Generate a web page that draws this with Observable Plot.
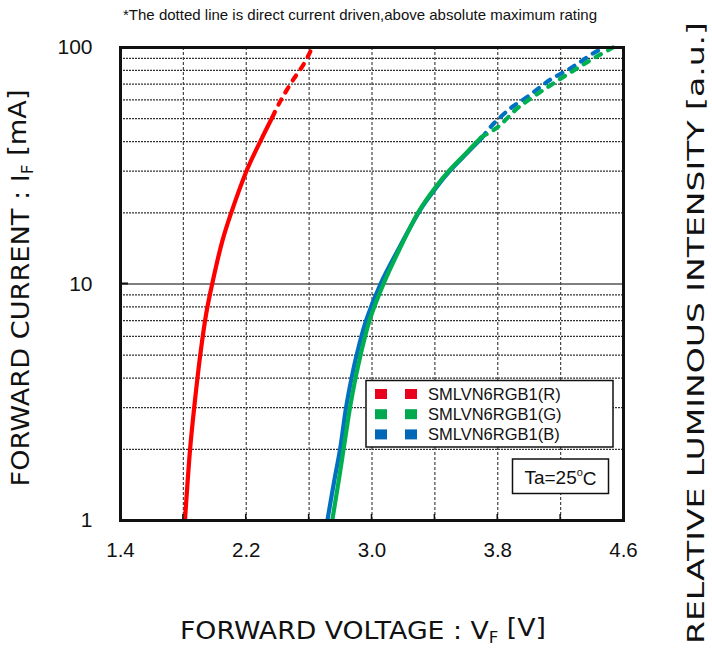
<!DOCTYPE html>
<html><head><meta charset="utf-8">
<script src="https://cdn.jsdelivr.net/npm/d3@7"></script>
<script src="https://cdn.jsdelivr.net/npm/@observablehq/plot@0.6"></script>
<style>body{margin:0;background:#fff}</style>
</head><body><div id="chart"></div>
<script>
// Red (R): forward voltage [V] vs forward current [mA]
const redSolidV = [1.810, 1.843, 1.869, 1.907, 1.945, 1.988, 2.049, 2.102, 2.203, 2.292, 2.366];
const redSolidI = [1, 2.01, 3.01, 4.99, 7.48, 10.35, 15.3, 19.8, 30.2, 40.4, 50.7];
const redDashV = [2.366, 2.419, 2.503, 2.567, 2.620];
const redDashI = [50.7, 59.7, 73.8, 85.3, 100];
// Green (G)
const greenSolidV = [2.747, 2.790, 2.819, 2.860, 2.895, 2.927, 2.984, 3.073, 3.181, 3.302, 3.397, 3.492, 3.594, 3.696];
const greenSolidI = [1, 1.5, 2, 3, 4, 5, 7, 10, 14.3, 20.5, 25.3, 30.2, 35.5, 41.8];
const greenDashV = [3.696, 3.795, 3.922, 4.006, 4.102, 4.176, 4.260, 4.345, 4.430, 4.533];
const greenDashI = [41.8, 45.8, 55.1, 60.7, 66.9, 72.1, 78.2, 84.8, 91.6, 100];
// Blue (B)
const blueSolidV = [2.716, 2.762, 2.797, 2.835, 2.870, 2.902, 2.962, 3.054, 3.175, 3.305, 3.403, 3.498, 3.600, 3.700];
const blueSolidI = [1, 1.5, 2, 3, 4, 5, 7, 10, 14.3, 20.5, 25.3, 30.2, 35.5, 41.5];
const blueDashV = [3.700, 3.763, 3.890, 3.985, 4.070, 4.144, 4.239, 4.324, 4.408, 4.450];
const blueDashI = [41.5, 46.8, 55.9, 61.6, 68, 73.8, 79.9, 86.7, 94.6, 98];

const xTicks = [1.4, 2.2, 3.0, 3.8, 4.6];
const xTickLabels = ["1.4", "2.2", "3.0", "3.8", "4.6"];
const xGrid = [1.8, 2.2, 2.6, 3.0, 3.4, 3.8, 4.2];
const yTicks = [1, 10, 100];
const yTickLabels = ["1", "10", "100"];
const yMinor = [2, 3, 4, 5, 6, 7, 8, 9, 20, 30, 40, 50, 60, 70, 80, 90];
const seriesNames = ["SMLVN6RGB1(R)", "SMLVN6RGB1(G)", "SMLVN6RGB1(B)"];
const seriesColors = ["#ff0000", "#00b050", "#0070c0"];
const legendColors = ["#e8001c", "#00a84f", "#0068b7"];

const pts = (V, I) => V.map((v, i) => ({v, i: I[i]}));

const lineOpts = (color, dashed) => ({x: "v", y: "i", stroke: color, strokeWidth: 4.2,
  strokeLinecap: dashed ? "round" : "butt", strokeDasharray: dashed ? "6,8" : null, curve: "catmull-rom"});

const sans = "'Liberation Sans', Arial, sans-serif";
const W = 712, H = 649;
const plot = Plot.plot({
  width: W, height: H,
  marginLeft: 120, marginRight: 89, marginTop: 47, marginBottom: 129,
  style: {fontFamily: sans, background: "#fff", color: "#000"},
  x: {domain: [1.4, 4.6], axis: null},
  y: {type: "log", domain: [1, 100], axis: null},
  marks: [
    Plot.ruleY(yMinor, {stroke: "#333", strokeWidth: 1.2, strokeDasharray: "2,1"}),
    Plot.ruleY([10], {stroke: "#555", strokeWidth: 1.5}),
    Plot.ruleX(xGrid, {stroke: "#444", strokeWidth: 1.2, strokeDasharray: "3,2"}),
    Plot.text(xTicks, {x: d => d, text: (d, i) => xTickLabels[i], frameAnchor: "bottom", dy: 30,
      fontSize: 20.5, fill: "#111", lineAnchor: "middle"}),
    Plot.text(yTicks, {y: d => d, text: (d, i) => yTickLabels[i], frameAnchor: "left", dx: -28,
      textAnchor: "end", fontSize: 21, fill: "#111"}),
    Plot.line(pts(redSolidV, redSolidI), lineOpts(seriesColors[0], false)),
    Plot.line(pts(redDashV, redDashI), lineOpts(seriesColors[0], true)),
    Plot.line(pts(blueSolidV, blueSolidI), lineOpts(seriesColors[2], false)),
    Plot.line(pts(blueDashV, blueDashI), lineOpts(seriesColors[2], true)),
    Plot.line(pts(greenSolidV, greenSolidI), lineOpts(seriesColors[1], false)),
    Plot.line(pts(greenDashV, greenDashI), lineOpts(seriesColors[1], true)),
    Plot.frame({stroke: "#111", strokeWidth: 3})
  ]
});
document.getElementById("chart").appendChild(plot);

const svg = d3.select(plot);
const xs = plot.scale("x"), ys = plot.scale("y");
const pLeft = xs.apply(1.4), pBottom = ys.apply(1);

// short inward ticks
const tg = svg.append("g");
xGrid.forEach(v => tg.append("line").attr("x1", xs.apply(v)).attr("x2", xs.apply(v))
  .attr("y1", pBottom).attr("y2", pBottom - 6).attr("stroke", "#111").attr("stroke-width", 1.5));
tg.append("line").attr("x1", pLeft).attr("x2", pLeft + 8).attr("y1", ys.apply(10)).attr("y2", ys.apply(10))
  .attr("stroke", "#111").attr("stroke-width", 2);

// Legend
const lg = svg.append("g");
lg.append("rect").attr("x", 366).attr("y", 380.5).attr("width", 247).attr("height", 66.5)
  .attr("fill", "#fff").attr("stroke", "#111").attr("stroke-width", 1.5);
seriesNames.forEach((n, k) => {
  const cy = 394 + k * 20.2;
  [375, 405].forEach(x0 => lg.append("rect").attr("x", x0).attr("y", cy - 5).attr("width", 12).attr("height", 10).attr("fill", legendColors[k]));
  lg.append("text").attr("x", 428).attr("y", cy).attr("dy", "0.36em").attr("text-anchor", "start")
    .attr("font-family", sans).attr("font-size", 16.5).attr("fill", "#111").text(n);
});
// Ta box
lg.append("rect").attr("x", 512.5).attr("y", 459).attr("width", 96).attr("height", 34.5)
  .attr("fill", "#fff").attr("stroke", "#111").attr("stroke-width", 1.5);
const ta = lg.append("text").attr("x", 560.5).attr("y", 477).attr("dy", "0.36em").attr("text-anchor", "middle")
  .attr("font-family", sans).attr("font-size", 19).attr("fill", "#111");
ta.append("tspan").text("Ta=25");
ta.append("tspan").attr("font-size", 11).attr("dy", "-0.75em").text("o");
ta.append("tspan").attr("dy", "0.5em").text("C");

// Note at top
svg.append("text").attr("x", 360).attr("y", 15).attr("dy", "0.36em").attr("text-anchor", "middle")
  .attr("font-family", sans).attr("font-size", 14.5).attr("fill", "#111")
  .attr("textLength", 474).attr("lengthAdjust", "spacingAndGlyphs")
  .text("*The dotted line is direct current driven,above absolute maximum rating");

// Axis titles
const labelFont = "'DejaVu Sans', Verdana, sans-serif";
const xl = svg.append("text").attr("x", 363).attr("y", 630).attr("dy", "0.36em").attr("text-anchor", "middle")
  .attr("font-family", labelFont).attr("font-size", 24).attr("fill", "#111")
  .attr("textLength", 366).attr("lengthAdjust", "spacingAndGlyphs");
xl.append("tspan").text("FORWARD VOLTAGE : V");
xl.append("tspan").attr("font-size", 15).attr("dy", "0.3em").text("F");
xl.append("tspan").attr("dy", "-0.3em").text(" [V]");

const yl = svg.append("text").attr("transform", "translate(20,288) rotate(-90)").attr("dy", "0.36em").attr("text-anchor", "middle")
  .attr("font-family", labelFont).attr("font-size", 24).attr("fill", "#111")
  .attr("textLength", 397).attr("lengthAdjust", "spacingAndGlyphs");
yl.append("tspan").text("FORWARD CURRENT : I");
yl.append("tspan").attr("font-size", 15).attr("dy", "0.3em").text("F");
yl.append("tspan").attr("dy", "-0.3em").text(" [mA]");

svg.append("text").attr("transform", "translate(696,333) rotate(-90)").attr("dy", "0.36em").attr("text-anchor", "middle")
  .attr("font-family", labelFont).attr("font-size", 23.5).attr("fill", "#111")
  .attr("textLength", 622).attr("lengthAdjust", "spacingAndGlyphs")
  .text("RELATIVE LUMINOUS INTENSITY [a.u.]");
</script>
</body></html>
